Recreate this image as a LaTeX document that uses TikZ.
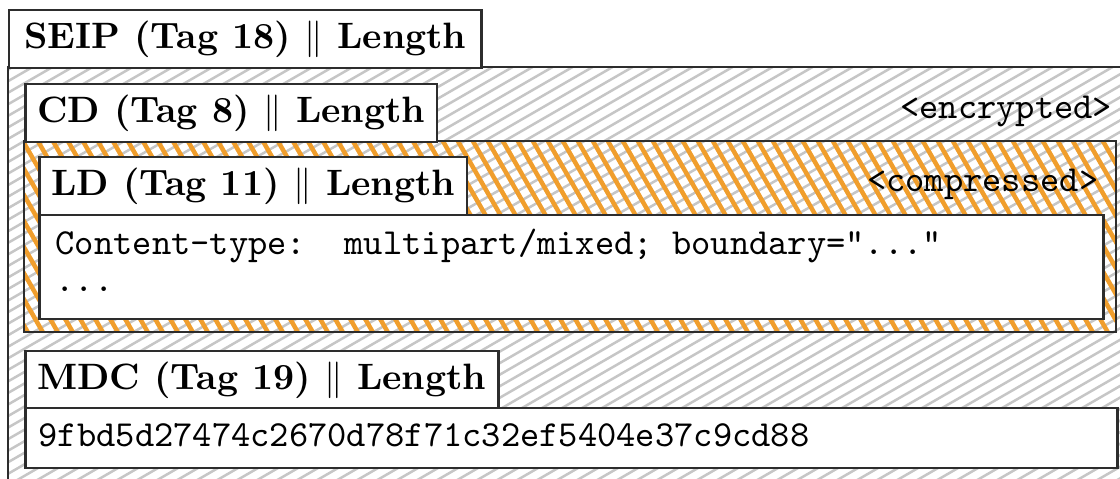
\documentclass[tikz,border=0pt]{standalone}
\newdimen\px
\px=0.2725pt
\definecolor{hatchgray}{RGB}{198,198,198}
\definecolor{hatchorange}{RGB}{240,158,45}
\definecolor{framecol}{RGB}{45,45,45}
\begin{document}
\begin{tikzpicture}[x=0.2725pt,y=-0.2725pt,
  frame/.style={draw=framecol, line width=2.5\px},
  labelbox/.style={frame, fill=white, anchor=north west, font=\bfseries,
    inner xsep=12\px, inner ysep=0pt, minimum height=58\px,
    text height=0.75em, text depth=0.25em},
  fieldbox/.style={frame, fill=white, anchor=north west, inner sep=0pt},
  ttlabel/.style={font=\ttfamily, inner sep=0pt},
  grayhatch/.style={draw=hatchgray, line width=2.5\px},
  orangehatch/.style={draw=hatchorange, line width=4.5\px}]

\clip (0,0) rectangle (1120,479);

% SEIP packet body: encrypted area, light grey hatching
\begin{scope}
  \clip (8,67) rectangle (1130,490);
  \foreach \t in {-880,-860,...,1140}
    \draw[grayhatch] (\t,490) -- ++(866,-500);
\end{scope}
\draw[frame] (1130,67) -- (8,67) -- (8,490);

% literal data area: compressed, orange hatching
\begin{scope}
  \clip (24,141) rectangle (1116,332);
  \foreach \t in {-130,-115,...,1130}
    \draw[orangehatch] (\t,136) -- ++(115,200);
\end{scope}
\draw[frame] (24,141) rectangle (1116,332);

% packet headers
\node[labelbox, inner xsep=15\px] (seip) at (8,9) {SEIP (Tag 18) $\|$ Length};
\node[labelbox] (cd) at (24,83) {CD (Tag 8) $\|$ Length};
\node[labelbox] (ld) at (38,156) {LD (Tag 11) $\|$ Length};
\node[labelbox] (mdc) at (24,350) {MDC (Tag 19) $\|$ Length};

% packet contents
\node[fieldbox, minimum width=1064\px, minimum height=104\px] (content) at (38,214) {};
\node[ttlabel, anchor=base west] (contentline) at (55,255)
  {Content-type:\ \ multipart/mixed; boundary="..."};
\node[ttlabel, anchor=base west] (contentmore) at (55,292) {...};

\node[fieldbox, minimum width=1092\px, minimum height=60\px] (hashbox) at (24,407) {};
\node[ttlabel, anchor=base west] (hash) at (38,447)
  {9fbd5d27474c2670d78f71c32ef5404e37c9cd88};

% layer annotations
\node[ttlabel, anchor=base east] (enc) at (1113,119) {<encrypted>};
\node[ttlabel, anchor=base east] (comp) at (1099,192) {<compressed>};
\end{tikzpicture}
\end{document}
